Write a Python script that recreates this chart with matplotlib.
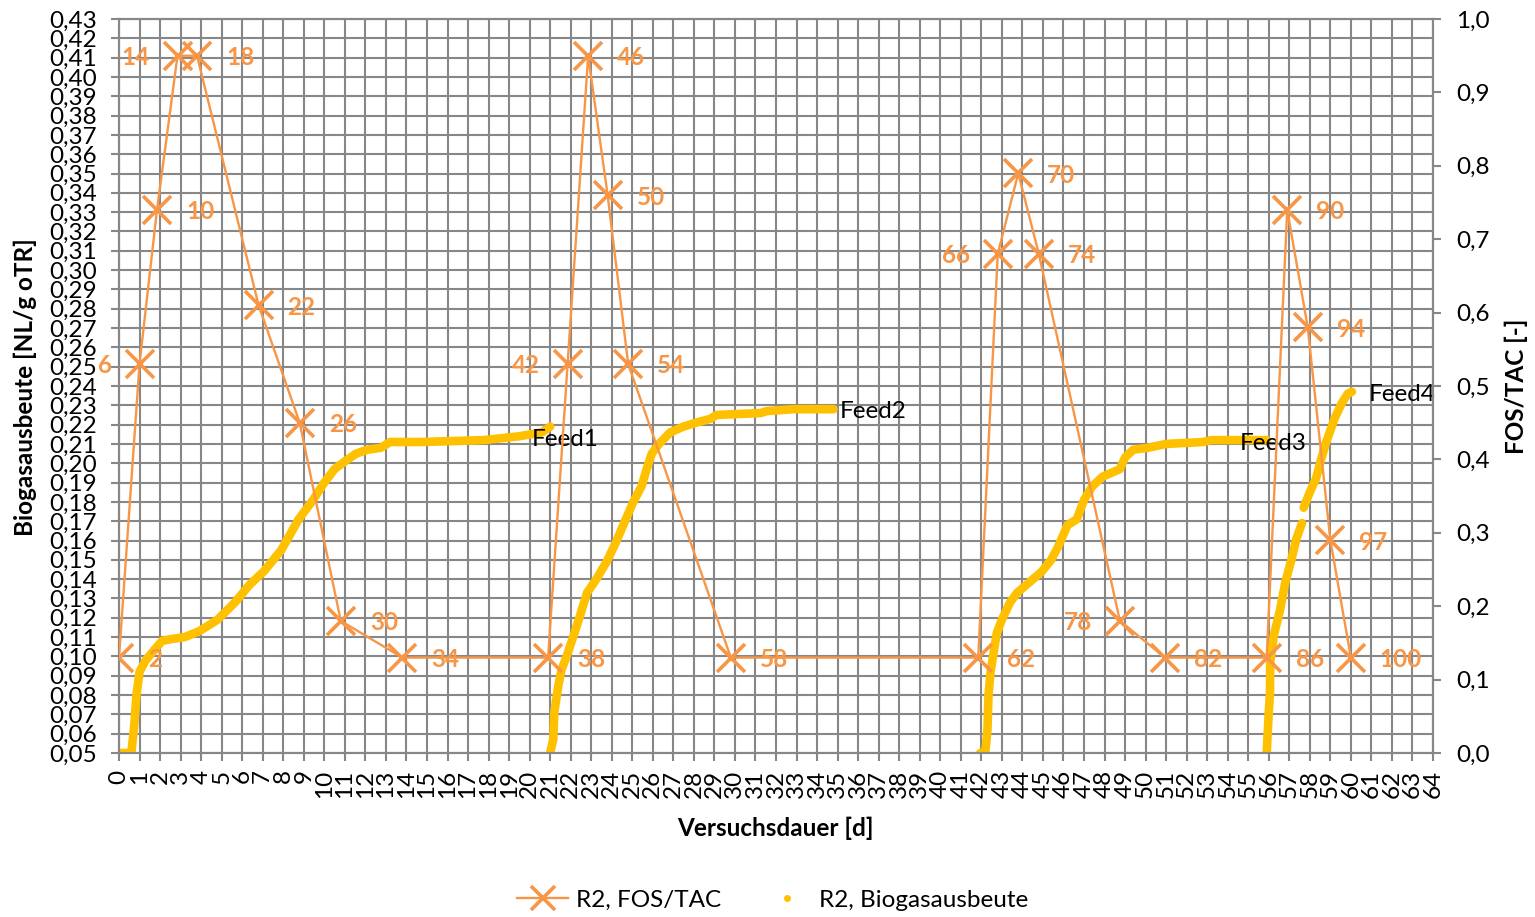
import matplotlib
matplotlib.use("Agg")
import matplotlib.pyplot as plt
from matplotlib.ticker import FuncFormatter
from matplotlib.lines import Line2D

# FOS/TAC measurements (right axis), with sample numbers used as point labels
fos_day = [0, 1, 1.85, 2.85, 3.8, 6.8, 8.8, 10.8, 13.8, 20.9,
           21.85, 22.85, 23.8, 24.8, 29.8,
           41.85, 42.8, 43.8, 44.8, 48.75, 50.95,
           55.9, 56.9, 57.9, 59.0, 60.0]
fos_value = [0.13, 0.53, 0.74, 0.95, 0.95, 0.61, 0.45, 0.18, 0.13, 0.13,
             0.53, 0.95, 0.76, 0.53, 0.13,
             0.13, 0.68, 0.79, 0.68, 0.18, 0.13,
             0.13, 0.74, 0.58, 0.29, 0.13]
fos_sample = [2, 6, 10, 14, 18, 22, 26, 30, 34, 38,
              42, 46, 50, 54, 58,
              62, 66, 70, 74, 78, 82,
              86, 90, 94, 97, 100]

# Cumulative biogas yield after each feeding (left axis, NL/g oTR)
feed1_day = [0.0, 0.6, 0.75, 0.85, 1.0, 1.3, 1.85, 2.1, 2.55, 3.2, 3.9, 4.8,
             5.65, 6.35, 7.05, 7.9, 8.75, 9.45, 10.0, 10.5, 11.0, 11.55,
             12.1, 12.75, 13.2, 14.7, 17.8, 19.5, 20.6, 21.0]
feed1_yield = [0.050, 0.050, 0.065, 0.080, 0.092, 0.098, 0.105, 0.108, 0.109,
               0.110, 0.113, 0.119, 0.128, 0.137, 0.144, 0.155, 0.171, 0.181,
               0.190, 0.197, 0.201, 0.205, 0.207, 0.208, 0.211, 0.211, 0.212,
               0.214, 0.216, 0.219]

feed2_day = [21.0, 21.15, 21.2, 21.4, 21.55, 21.8, 22.15, 22.45, 22.8, 23.25,
             23.75, 24.2, 24.6, 25.05, 25.45, 25.7, 25.95, 26.3, 26.85, 27.5,
             28.1, 28.8, 29.1, 31.25, 31.55, 32.85, 34.8]
feed2_yield = [0.050, 0.057, 0.071, 0.085, 0.093, 0.100, 0.111, 0.121, 0.133,
               0.140, 0.149, 0.159, 0.169, 0.180, 0.188, 0.197, 0.205, 0.210,
               0.216, 0.219, 0.221, 0.223, 0.225, 0.226, 0.227, 0.228, 0.228]

feed3_day = [41.95, 42.2, 42.3, 42.35, 42.45, 42.6, 42.75, 43.0, 43.4, 43.75,
             44.3, 44.95, 45.4, 45.75, 46.2, 46.65, 47.0, 47.4, 47.9, 48.75,
             49.0, 49.4, 50.1, 51.0, 52.8, 53.2, 55.9]
feed3_yield = [0.050, 0.051, 0.062, 0.080, 0.092, 0.102, 0.112, 0.119, 0.128,
               0.133, 0.138, 0.144, 0.150, 0.157, 0.168, 0.171, 0.181, 0.188,
               0.193, 0.197, 0.203, 0.207, 0.208, 0.210, 0.211, 0.212, 0.212]

feed4_day = [55.9, 56.0, 56.06, 56.07, 56.25, 56.55, 56.8, 57.1, 57.35, 57.62,
             None,
             57.7, 58.0, 58.3, 58.55, 58.8, 59.2, 59.55, 59.85, 60.05]
feed4_yield = [0.050, 0.071, 0.081, 0.097, 0.111, 0.124, 0.138, 0.150, 0.161,
               0.169,
               None,
               0.177, 0.185, 0.192, 0.202, 0.211, 0.223, 0.231, 0.236, 0.237]

feed_names = ["Feed1", "Feed2", "Feed3", "Feed4"]

x_ticks = list(range(0, 65))
left_ticks = [round(0.05 + 0.01 * i, 2) for i in range(39)]
right_ticks = [round(0.1 * i, 1) for i in range(11)]

# Styling
ORANGE = "#F79646"
GOLD = "#FFC000"
GRID = "#878787"
FS = 17.5

plt.rcParams["font.family"] = ["Lato", "DejaVu Sans"]
plt.rcParams["font.size"] = FS

W_PX, H_PX = 1535, 917
fig = plt.figure(figsize=(W_PX / 100, H_PX / 100), dpi=100)
left, right, top, bottom = 119, 1433, 19, 753
ax = fig.add_axes([left / W_PX, 1 - bottom / H_PX,
                   (right - left) / W_PX, (bottom - top) / H_PX])

ax.set_xlim(0, 64)
ax.set_ylim(0.05, 0.43)
ax.set_xticks(x_ticks)
ax.set_yticks(left_ticks)
ax.grid(True, color=GRID, lw=1.5)
ax.set_axisbelow(True)
ax.yaxis.set_major_formatter(FuncFormatter(lambda v, p: f"{v:.2f}".replace(".", ",")))
ax.tick_params(axis="both", direction="out", length=5.8, width=1.5, color=GRID,
               labelsize=FS)
ax.tick_params(axis="y", pad=10)
ax.tick_params(axis="x", pad=6, labelrotation=90)
for sp in ax.spines.values():
    sp.set_color(GRID)
    sp.set_linewidth(1.5)

# Biogas yield curves
feeds = [(feed1_day, feed1_yield), (feed2_day, feed2_yield),
         (feed3_day, feed3_yield), (feed4_day, feed4_yield)]
for d, y in feeds:
    xs = [float("nan") if v is None else v for v in d]
    ys = [float("nan") if v is None else v for v in y]
    ax.plot(xs, ys, color=GOLD, lw=6.2, solid_capstyle="round",
            solid_joinstyle="round", zorder=3)

feed_offsets = [(-18, -13), (6, -2), (-27, -3), (17, -3)]
for (d, y), name, off in zip(feeds, feed_names, feed_offsets):
    ax.annotate(name, (d[-1], y[-1]), xytext=off, textcoords="offset pixels",
                ha="left", va="center", fontsize=FS, color="black", zorder=5)

# FOS/TAC on the secondary axis
ax2 = ax.twinx()
ax2.set_ylim(0, 1.0)
ax2.set_yticks(right_ticks)
ax2.yaxis.set_major_formatter(FuncFormatter(lambda v, p: f"{v:.1f}".replace(".", ",")))
ax2.tick_params(axis="y", direction="out", length=5.8, width=1.5, color=GRID,
                labelsize=FS, pad=11)
for sp in ax2.spines.values():
    sp.set_color(GRID)
    sp.set_linewidth(1.5)

ax2.plot(fos_day, fos_value, color=ORANGE, lw=1.7, marker="x", ms=20, mew=2.6,
         zorder=4)

left_side = {6, 14, 42, 66, 78}
for d, v, s in zip(fos_day, fos_value, fos_sample):
    if s in left_side:
        off, ha = (-28, -2), "right"
    else:
        off, ha = (29, -2), "left"
    ax2.annotate(str(s), (d, v), xytext=off, textcoords="offset pixels",
                 ha=ha, va="center", fontsize=FS, fontweight="bold",
                 color=ORANGE, annotation_clip=False)

# Axis titles
fig.text(25 / W_PX, 1 - 387 / H_PX, "Biogasausbeute [NL/g oTR]", rotation=90,
         ha="center", va="center", fontsize=FS, fontweight="bold")
fig.text(1516 / W_PX, 1 - 386 / H_PX, "FOS/TAC [-]", rotation=90,
         ha="center", va="center", fontsize=FS, fontweight="bold")
fig.text(775 / W_PX, 1 - 828 / H_PX, "Versuchsdauer [d]",
         ha="center", va="center", fontsize=FS, fontweight="bold")

# Legend
h_fos = Line2D([], [], color=ORANGE, lw=1.7, marker="x", ms=17, mew=2.6)
h_gas = Line2D([], [], color=GOLD, ls="none", marker="o", ms=4)
fig.legend([h_fos, h_gas], ["R2, FOS/TAC", "R2, Biogasausbeute"],
           loc="center", bbox_to_anchor=(773 / W_PX, 1 - 900 / H_PX),
           ncol=2, frameon=False, handlelength=2.1, handletextpad=0.3,
           columnspacing=1.65, fontsize=FS)

fig.savefig("out.png", dpi=100)
